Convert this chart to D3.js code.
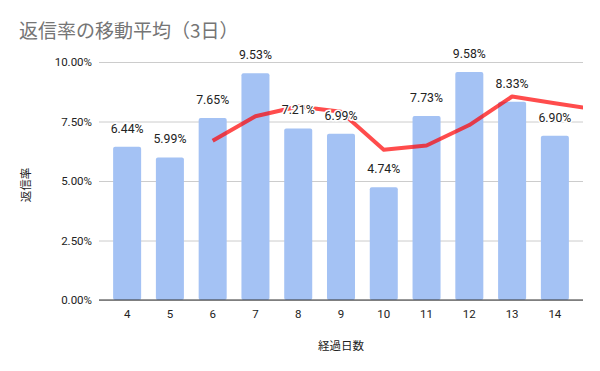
<!DOCTYPE html>
<html>
<head>
<meta charset="utf-8">
<script src="https://cdn.jsdelivr.net/npm/d3@7"></script>
<style>
  body { margin: 0; background: #fff; }
  svg { display: block; }
  text { font-family: Roboto, "Noto Sans CJK JP", sans-serif; }
  .jp { font-family: "Noto Sans CJK JP", Roboto, sans-serif; }
</style>
</head>
<body>
<div id="chart"></div>
<script>
const CHART_TITLE = "返信率の移動平均（3日）";
const X_TITLE = "経過日数";
const Y_TITLE = "返信率";

// days elapsed and reply rate (%)
const days = [4, 5, 6, 7, 8, 9, 10, 11, 12, 13, 14];
const replyRates = [6.44, 5.99, 7.65, 9.53, 7.21, 6.99, 4.74, 7.73, 9.58, 8.33, 6.90];

// 3-day moving average (runs on past 14 to the edge)
const avgDays = [6, 7, 8, 9, 10, 11, 12, 13, 14, 15];
const avgRates = [6.69, 7.72, 8.13, 7.91, 6.31, 6.49, 7.35, 8.55, 8.27, 7.99];

const yTicks = [0, 2.5, 5, 7.5, 10];

const width = 600;
const height = 371;
const margin = { top: 62, right: 17, bottom: 71, left: 99 };

const svg = d3.select("#chart").append("svg")
  .attr("width", width)
  .attr("height", height);

const plotW = width - margin.left - margin.right;
const plotH = height - margin.top - margin.bottom;

const x = d3.scaleBand()
  .domain(days)
  .range([margin.left, margin.left + plotW])
  .paddingInner(0.345)
  .paddingOuter(0.33);

const xc = (d) => x(d) + x.bandwidth() / 2;
// numeric position for the line, including points off the band domain
const xLine = d3.scaleLinear()
  .domain([days[0], days[1]])
  .range([xc(days[0]), xc(days[1])]);

const y = d3.scaleLinear()
  .domain([0, 10])
  .range([margin.top + plotH, margin.top]);

const fmt = (v) => v.toFixed(2) + "%";

// title
svg.append("text")
  .attr("class", "jp")
  .attr("x", 19)
  .attr("y", 38)
  .attr("font-size", 19)
  .attr("fill", "#757575")
  .text(CHART_TITLE);

// grid + y labels
const yAxis = d3.axisLeft(y)
  .tickValues(yTicks)
  .tickSize(-plotW)
  .tickPadding(7)
  .tickFormat(fmt);

const gy = svg.append("g")
  .attr("transform", "translate(" + margin.left + ",0)")
  .call(yAxis);
gy.select(".domain").remove();
gy.selectAll("line").attr("stroke", "#cccccc");
gy.selectAll("text")
  .attr("font-size", 11.5)
  .attr("fill", "#222");

// bars
svg.append("g")
  .selectAll("rect")
  .data(replyRates)
  .join("rect")
  .attr("x", (d, i) => x(days[i]))
  .attr("y", (d) => y(d))
  .attr("width", x.bandwidth())
  .attr("height", (d) => y(0) - y(d))
  .attr("rx", 2)
  .attr("fill", "#a4c2f4");

// moving average line
svg.append("clipPath")
  .attr("id", "plotClip")
  .append("rect")
  .attr("x", margin.left)
  .attr("y", margin.top - 10)
  .attr("width", plotW)
  .attr("height", plotH + 10);

const line = d3.line()
  .x((d, i) => xLine(avgDays[i]))
  .y((d) => y(d));

svg.append("path")
  .datum(avgRates)
  .attr("clip-path", "url(#plotClip)")
  .attr("d", line)
  .attr("fill", "none")
  .attr("stroke", "#ff0000")
  .attr("stroke-opacity", 0.7)
  .attr("stroke-width", 4)
  .attr("stroke-linejoin", "round");

// x axis
const xAxis = d3.axisBottom(x)
  .tickSize(0)
  .tickPadding(10);

const gx = svg.append("g")
  .attr("transform", "translate(0," + y(0) + ")")
  .call(xAxis);
gx.select(".domain")
  .attr("d", "M" + margin.left + ",0H" + (margin.left + plotW))
  .attr("stroke", "#333")
  .attr("stroke-width", 1.2);
gx.selectAll("text")
  .attr("font-size", 11.5)
  .attr("fill", "#222");

// data labels with white halo
svg.append("g")
  .selectAll("text")
  .data(replyRates)
  .join("text")
  .attr("x", (d, i) => xc(days[i]))
  .attr("y", (d) => y(d) - 14)
  .attr("text-anchor", "middle")
  .attr("font-size", 12.3)
  .attr("fill", "#222")
  .attr("stroke", "#fff")
  .attr("stroke-width", 3)
  .attr("paint-order", "stroke")
  .text(fmt);

// axis titles
svg.append("text")
  .attr("class", "jp")
  .attr("x", margin.left + plotW / 2)
  .attr("y", 350)
  .attr("text-anchor", "middle")
  .attr("font-size", 11.5)
  .attr("fill", "#222")
  .text(X_TITLE);

svg.append("text")
  .attr("class", "jp")
  .attr("transform", "translate(30," + (margin.top + plotH / 2 + 4) + ") rotate(-90)")
  .attr("text-anchor", "middle")
  .attr("font-size", 11.5)
  .attr("fill", "#222")
  .text(Y_TITLE);
</script>
</body>
</html>
